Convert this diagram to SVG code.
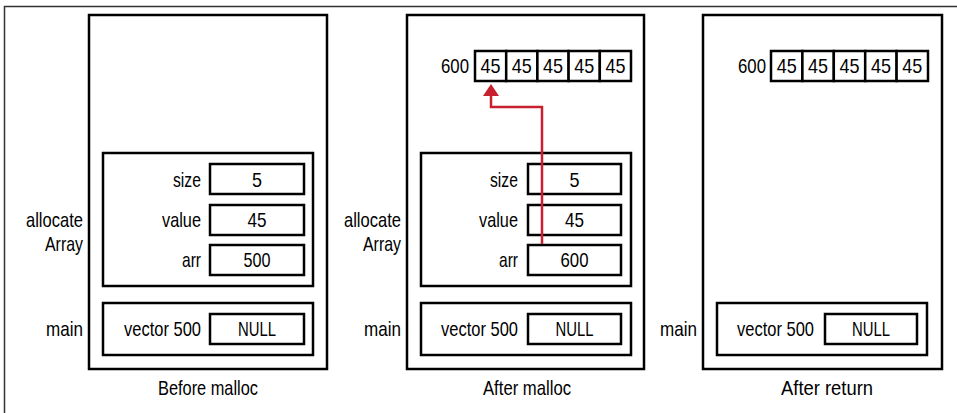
<svg xmlns="http://www.w3.org/2000/svg" width="957" height="413" viewBox="0 0 957 413">
<defs>
<style>
.box{fill:#fff;stroke:#000;stroke-width:2.5}
.frame{fill:none;stroke:#000;stroke-width:2.5}
text{font-family:"Liberation Sans",Arial,sans-serif;font-size:21px;fill:#000}
.r{text-anchor:end}
.c{text-anchor:middle}
.arrow{fill:none;stroke:#c8202e;stroke-width:2.5}
</style>
<marker id="ah" markerUnits="userSpaceOnUse" markerWidth="12" markerHeight="16" refX="0" refY="8" orient="auto" viewBox="0 0 12 16">
<path d="M0,0 L12,8 L0,16 Z" fill="#c8202e"/>
</marker>
</defs>
<rect width="957" height="413" fill="#fff"/>
<path d="M4.5,413 V6.5 H957" fill="none" stroke="#333" stroke-width="1.5"/>

<g id="before">
<rect class="frame" x="89" y="15" width="238" height="354"/>
<g id="before-allocate">
<rect class="frame" x="103" y="153" width="210" height="133"/>
<text class="r" x="83" y="227" textLength="57" lengthAdjust="spacingAndGlyphs">allocate</text>
<text class="r" x="83" y="251" textLength="38" lengthAdjust="spacingAndGlyphs">Array</text>
<text class="r" x="201" y="187" textLength="28" lengthAdjust="spacingAndGlyphs">size</text>
<rect class="box" x="210" y="164" width="94" height="30"/>
<text class="c" x="257" y="187" textLength="10" lengthAdjust="spacingAndGlyphs">5</text>
<text class="r" x="201" y="227" textLength="39" lengthAdjust="spacingAndGlyphs">value</text>
<rect class="box" x="210" y="205" width="94" height="30"/>
<text class="c" x="257" y="227" textLength="19" lengthAdjust="spacingAndGlyphs">45</text>
<text class="r" x="201" y="267" textLength="19" lengthAdjust="spacingAndGlyphs">arr</text>
<rect class="box" x="210" y="245" width="94" height="30"/>
<text class="c" x="257" y="267" textLength="27" lengthAdjust="spacingAndGlyphs">500</text>
</g>
<g id="before-main">
<rect class="frame" x="103" y="303" width="210" height="52"/>
<text class="r" x="83" y="336" textLength="37" lengthAdjust="spacingAndGlyphs">main</text>
<text class="r" x="201" y="336" textLength="77" lengthAdjust="spacingAndGlyphs">vector 500</text>
<rect class="box" x="210" y="314" width="94" height="30"/>
<text class="c" x="257" y="336" textLength="38" lengthAdjust="spacingAndGlyphs">NULL</text>
</g>
<text class="c" x="208" y="395" textLength="100" lengthAdjust="spacingAndGlyphs">Before malloc</text>
</g>

<g id="after-malloc">
<rect class="frame" x="407" y="15" width="237" height="354"/>
<g id="am-heap">
<text class="r" x="469" y="73" textLength="28" lengthAdjust="spacingAndGlyphs">600</text>
<rect class="box" x="475" y="51" width="31.2" height="30"/>
<rect class="box" x="506.2" y="51" width="31.2" height="30"/>
<rect class="box" x="537.4" y="51" width="31.2" height="30"/>
<rect class="box" x="568.6" y="51" width="31.2" height="30"/>
<rect class="box" x="599.8" y="51" width="31.2" height="30"/>
<text class="c" x="490.6" y="73" textLength="20" lengthAdjust="spacingAndGlyphs">45</text>
<text class="c" x="521.8" y="73" textLength="20" lengthAdjust="spacingAndGlyphs">45</text>
<text class="c" x="553" y="73" textLength="20" lengthAdjust="spacingAndGlyphs">45</text>
<text class="c" x="584.2" y="73" textLength="20" lengthAdjust="spacingAndGlyphs">45</text>
<text class="c" x="615.4" y="73" textLength="20" lengthAdjust="spacingAndGlyphs">45</text>
</g>
<g id="am-allocate">
<rect class="frame" x="421" y="153" width="210" height="133"/>
<text class="r" x="401" y="227" textLength="57" lengthAdjust="spacingAndGlyphs">allocate</text>
<text class="r" x="401" y="251" textLength="38" lengthAdjust="spacingAndGlyphs">Array</text>
<text class="r" x="518" y="187" textLength="28" lengthAdjust="spacingAndGlyphs">size</text>
<rect class="box" x="528" y="164" width="93" height="30"/>
<text class="c" x="574.5" y="187" textLength="10" lengthAdjust="spacingAndGlyphs">5</text>
<text class="r" x="518" y="227" textLength="39" lengthAdjust="spacingAndGlyphs">value</text>
<rect class="box" x="528" y="205" width="93" height="30"/>
<text class="c" x="574.5" y="227" textLength="19" lengthAdjust="spacingAndGlyphs">45</text>
<text class="r" x="518" y="267" textLength="19" lengthAdjust="spacingAndGlyphs">arr</text>
<rect class="box" x="528" y="245" width="93" height="30"/>
<text class="c" x="574.5" y="267" textLength="28" lengthAdjust="spacingAndGlyphs">600</text>
</g>
<g id="am-main">
<rect class="frame" x="421" y="303" width="210" height="52"/>
<text class="r" x="401" y="336" textLength="37" lengthAdjust="spacingAndGlyphs">main</text>
<text class="r" x="518" y="336" textLength="77" lengthAdjust="spacingAndGlyphs">vector 500</text>
<rect class="box" x="528" y="314" width="93" height="30"/>
<text class="c" x="574.5" y="336" textLength="38" lengthAdjust="spacingAndGlyphs">NULL</text>
</g>
<text class="c" x="527" y="395" textLength="88" lengthAdjust="spacingAndGlyphs">After malloc</text>
</g>

<g id="after-return">
<rect class="frame" x="703" y="15" width="239" height="354"/>
<g id="ar-heap">
<text class="r" x="766" y="73" textLength="28" lengthAdjust="spacingAndGlyphs">600</text>
<rect class="box" x="771" y="51" width="31.4" height="30"/>
<rect class="box" x="802.4" y="51" width="31.4" height="30"/>
<rect class="box" x="833.8" y="51" width="31.4" height="30"/>
<rect class="box" x="865.2" y="51" width="31.4" height="30"/>
<rect class="box" x="896.6" y="51" width="31.4" height="30"/>
<text class="c" x="786.7" y="73" textLength="20" lengthAdjust="spacingAndGlyphs">45</text>
<text class="c" x="818.1" y="73" textLength="20" lengthAdjust="spacingAndGlyphs">45</text>
<text class="c" x="849.5" y="73" textLength="20" lengthAdjust="spacingAndGlyphs">45</text>
<text class="c" x="880.9" y="73" textLength="20" lengthAdjust="spacingAndGlyphs">45</text>
<text class="c" x="912.3" y="73" textLength="20" lengthAdjust="spacingAndGlyphs">45</text>
</g>
<g id="ar-main">
<rect class="frame" x="717" y="303" width="210" height="52"/>
<text class="r" x="697" y="336" textLength="37" lengthAdjust="spacingAndGlyphs">main</text>
<text class="r" x="814" y="336" textLength="77" lengthAdjust="spacingAndGlyphs">vector 500</text>
<rect class="box" x="825" y="314" width="92" height="30"/>
<text class="c" x="871" y="336" textLength="38" lengthAdjust="spacingAndGlyphs">NULL</text>
</g>
<text class="c" x="827" y="395" textLength="92" lengthAdjust="spacingAndGlyphs">After return</text>
</g>

<g id="connectors">
<path class="arrow" d="M542,244 V107 H491 V96" marker-end="url(#ah)"/>
</g>
</svg>
